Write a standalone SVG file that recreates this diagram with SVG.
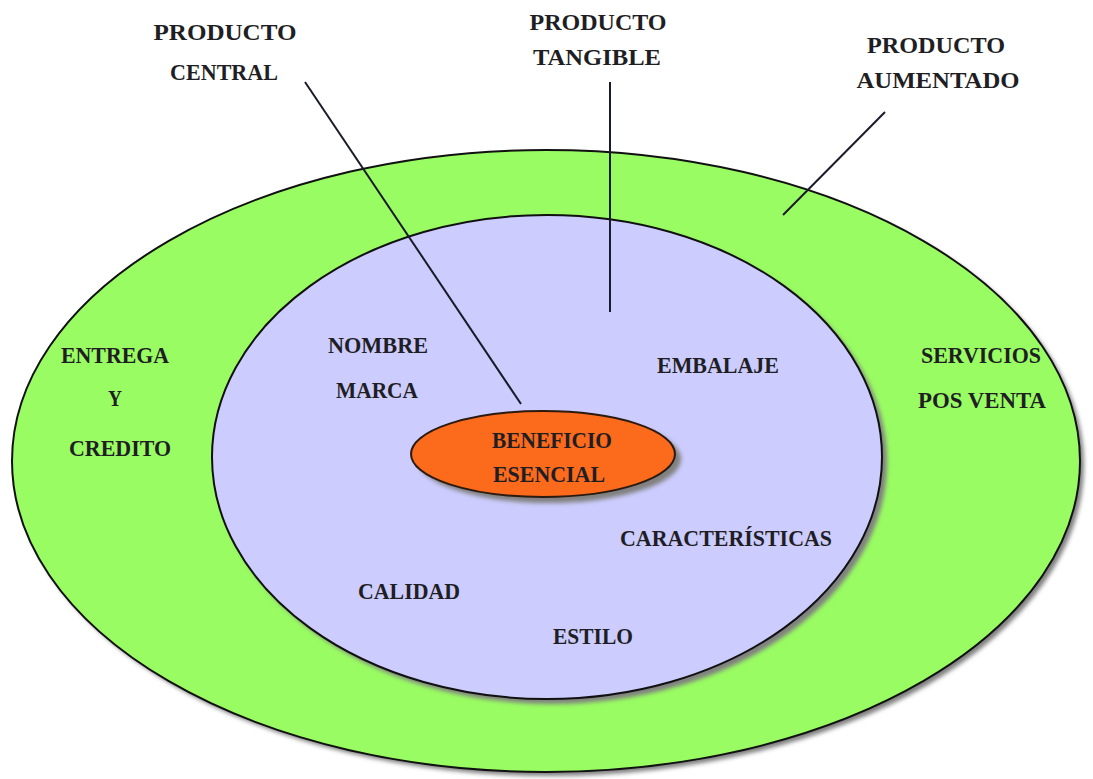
<svg xmlns="http://www.w3.org/2000/svg" width="1093" height="779" viewBox="0 0 1093 779">
<defs>
<filter id="blur" x="-10%" y="-10%" width="120%" height="120%"><feGaussianBlur stdDeviation="2"/></filter>
</defs>
<style>
.t{font-family:"Liberation Serif","Times New Roman",serif;font-weight:bold;font-size:24px;fill:#1e1e24;text-anchor:middle}
.ln{stroke:#1a1a2a;stroke-width:2;fill:none}
.sh{fill:#808080;filter:url(#blur)}
</style>
<rect width="1093" height="779" fill="#fff"/>
<g id="outer">
<ellipse class="sh" cx="550" cy="465" rx="534" ry="311"/>
<ellipse cx="546" cy="461" rx="534" ry="311" fill="#99fc62" stroke="#111" stroke-width="2"/>
</g>
<g id="inner">
<ellipse class="sh" cx="552" cy="462" rx="335" ry="242"/>
<ellipse cx="547" cy="457" rx="335" ry="242" fill="#ccccfe" stroke="#111" stroke-width="2"/>
</g>
<g id="connectors">
<line class="ln" x1="305" y1="82" x2="521" y2="404"/>
<line class="ln" x1="610" y1="82" x2="610" y2="312"/>
<line class="ln" x1="885" y1="112" x2="783" y2="215"/>
</g>
<g id="core">
<ellipse class="sh" cx="549" cy="459" rx="132" ry="44"/>
<ellipse cx="543" cy="454" rx="132" ry="43" fill="#fc6a1c" stroke="#2a1a10" stroke-width="2"/>
<text class="t" x="552" y="448" textLength="120" lengthAdjust="spacingAndGlyphs">BENEFICIO</text>
<text class="t" x="549" y="482" textLength="112" lengthAdjust="spacingAndGlyphs">ESENCIAL</text>
</g>
<g id="label-central">
<text class="t" x="225" y="40" textLength="143" lengthAdjust="spacingAndGlyphs">PRODUCTO</text>
<text class="t" x="224" y="80" textLength="108" lengthAdjust="spacingAndGlyphs">CENTRAL</text>
</g>
<g id="label-tangible">
<text class="t" x="598" y="30" textLength="137" lengthAdjust="spacingAndGlyphs">PRODUCTO</text>
<text class="t" x="597" y="65" textLength="128" lengthAdjust="spacingAndGlyphs">TANGIBLE</text>
</g>
<g id="label-aumentado">
<text class="t" x="936" y="53" textLength="138" lengthAdjust="spacingAndGlyphs">PRODUCTO</text>
<text class="t" x="938" y="88" textLength="163" lengthAdjust="spacingAndGlyphs">AUMENTADO</text>
</g>
<g id="entrega">
<text class="t" x="115" y="363" textLength="108" lengthAdjust="spacingAndGlyphs">ENTREGA</text>
<text class="t" x="115" y="406" textLength="14" lengthAdjust="spacingAndGlyphs">Y</text>
<text class="t" x="120" y="456" textLength="102" lengthAdjust="spacingAndGlyphs">CREDITO</text>
</g>
<g id="servicios">
<text class="t" x="981" y="363" textLength="120" lengthAdjust="spacingAndGlyphs">SERVICIOS</text>
<text class="t" x="982" y="408" textLength="128" lengthAdjust="spacingAndGlyphs">POS VENTA</text>
</g>
<g id="nombre">
<text class="t" x="378" y="353" textLength="100" lengthAdjust="spacingAndGlyphs">NOMBRE</text>
<text class="t" x="377" y="398" textLength="82" lengthAdjust="spacingAndGlyphs">MARCA</text>
</g>
<g id="embalaje">
<text class="t" x="718" y="373" textLength="122" lengthAdjust="spacingAndGlyphs">EMBALAJE</text>
</g>
<g id="caracteristicas">
<text class="t" x="726" y="546" textLength="212" lengthAdjust="spacingAndGlyphs">CARACTERÍSTICAS</text>
</g>
<g id="calidad">
<text class="t" x="409" y="599" textLength="102" lengthAdjust="spacingAndGlyphs">CALIDAD</text>
</g>
<g id="estilo">
<text class="t" x="593" y="644" textLength="80" lengthAdjust="spacingAndGlyphs">ESTILO</text>
</g>
</svg>
